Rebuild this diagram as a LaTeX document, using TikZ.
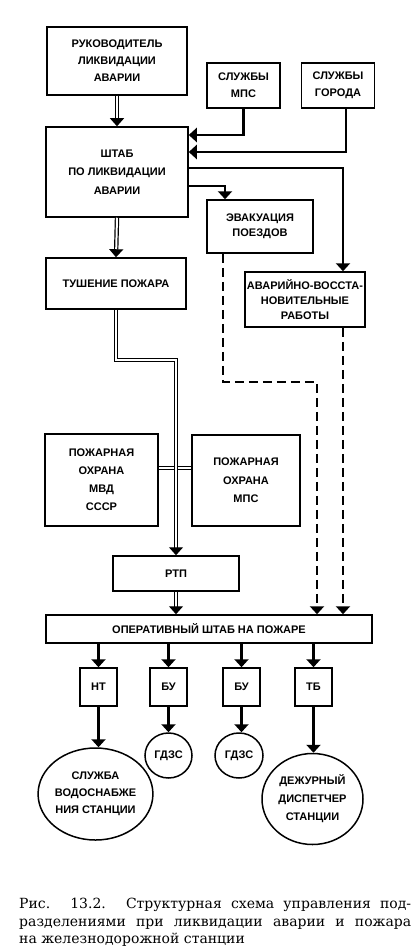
\documentclass[tikz,border=0pt]{standalone}
\usepackage{fontspec}
\setmainfont{DejaVu Serif}
\newfontfamily\boxfont{Liberation Sans}
\usetikzlibrary{arrows.meta,shapes.geometric,positioning}

\begin{document}
\begin{tikzpicture}[x=1pt,y=-1pt,
  every node/.style={font=\boxfont\bfseries\fontsize{11}{17}\selectfont},
  box/.style={draw,line width=1.5pt,align=center,inner sep=0pt},
  oval/.style={draw,ellipse,line width=1.5pt,align=center,inner sep=0pt},
  arrow/.style={-{Triangle[width=14pt,length=8pt]},line width=2.5pt},
  dblarrow/.style={-{Triangle[width=14pt,length=8pt]},double,double distance=2pt,line width=1.2pt},
  dblline/.style={double,double distance=2pt,line width=1.2pt},
  dasharrow/.style={arrow,dash pattern=on 9pt off 5pt}
]
  \useasboundingbox (0,0) rectangle (416,952);

  % top level
  \node[box,minimum width=140pt,minimum height=68pt] (ruk) at (117,61) {РУКОВОДИТЕЛЬ\\ЛИКВИДАЦИИ\\АВАРИИ};
  \node[box,minimum width=73pt,minimum height=45pt] (mps) at (243.5,85.5) {СЛУЖБЫ\\МПС};
  \node[box,minimum width=73pt,minimum height=45pt,right=20pt of mps] (gorod) {СЛУЖБЫ\\ГОРОДА};
  \node[box,minimum width=142pt,minimum height=90pt,font=\boxfont\bfseries\fontsize{11}{18.5}\selectfont] (shtab) at (117,172) {ШТАБ\\ПО ЛИКВИДАЦИИ\\АВАРИИ};
  \node[box,minimum width=106pt,minimum height=53pt,font=\boxfont\bfseries\fontsize{11}{15.5}\selectfont] (evak) at (260,226.5) {ЭВАКУАЦИЯ\\ПОЕЗДОВ};
  \node[box,minimum width=120pt,minimum height=55pt,font=\boxfont\bfseries\fontsize{11}{15}\selectfont] (avar) at (305,299.5) {АВАРИЙНО-ВОССТА-\\НОВИТЕЛЬНЫЕ\\РАБОТЫ};
  \node[box,minimum width=140pt,minimum height=51pt] (tush) at (116,283.5) {ТУШЕНИЕ ПОЖАРА};

  % fire forces
  \node[box,minimum width=113pt,minimum height=92pt,font=\boxfont\bfseries\fontsize{11}{18}\selectfont] (pomvd) at (101.5,480) {ПОЖАРНАЯ\\ОХРАНА\\МВД\\СССР};
  \node[box,minimum width=108pt,minimum height=91pt,font=\boxfont\bfseries\fontsize{11}{18.5}\selectfont] (pomps) at (246,480.5) {ПОЖАРНАЯ\\ОХРАНА\\МПС};
  \node[box,minimum width=126pt,minimum height=35pt] (rtp) at (176,573.5) {РТП};
  \node[box,minimum width=326pt,minimum height=28pt] (oper) at (209,629) {ОПЕРАТИВНЫЙ ШТАБ НА ПОЖАРЕ};

  % sections
  \node[box,minimum width=37pt,minimum height=38pt] (nt) at (98.5,687) {НТ};
  \node[box,minimum width=37pt,minimum height=38pt] (bua) at (168.5,687) {БУ};
  \node[box,minimum width=37pt,minimum height=38pt] (bub) at (241.5,687) {БУ};
  \node[box,minimum width=37pt,minimum height=38pt] (tb) at (313.5,687) {ТБ};
  \node[oval,minimum width=105pt,minimum height=92pt] (voda) at (95.5,794) {СЛУЖБА\\ВОДОСНАБЖЕ\\НИЯ СТАНЦИИ};
  \node[oval,minimum width=47pt,minimum height=45pt] (gdzsa) at (168.5,755.5) {ГДЗС};
  \node[oval,minimum width=48pt,minimum height=45pt] (gdzsb) at (239,755.5) {ГДЗС};
  \node[oval,minimum width=101pt,minimum height=91pt,font=\boxfont\bfseries\fontsize{11}{18}\selectfont] (disp) at (312.5,799) {ДЕЖУРНЫЙ\\ДИСПЕТЧЕР\\СТАНЦИИ};

  \coordinate (jn) at (176,360);
  \coordinate (bend) at (317,382);

  % connectors
  \draw[dblarrow] (ruk.south) -- (shtab.north);
  \draw[arrow] (mps.south) |- ([yshift=37pt]shtab.east);
  \draw[arrow] ([xshift=8pt]gorod.south) |- ([yshift=20pt]shtab.east);
  \draw[arrow] ([yshift=4pt]shtab.east) -| ([xshift=38pt]avar.north);
  \draw[arrow] ([yshift=-14pt]shtab.east) -| ([xshift=-35pt]evak.north);
  \draw[dblarrow] (shtab.south) -- (tush.north);
  \draw[dblline] ([yshift=12pt]pomvd.east) -- ([yshift=12pt]pomvd.east -| pomps.west);
  \draw[dblarrow] (tush.south) |- (jn) -- (rtp.north);
  \draw[dblarrow] (rtp.south) -- (oper.north -| rtp.south);
  \draw[dasharrow] ([xshift=-37pt]evak.south) |- (bend) -- (bend |- oper.north);
  \draw[dasharrow] ([xshift=38pt]avar.south) -- ([xshift=38pt]avar.south |- oper.north);
  \foreach \s in {nt,bua,bub,tb}
    \draw[arrow] (oper.south -| \s.north) -- (\s.north);
  \draw[arrow] (nt.south) -- (nt.south |- voda.north);
  \draw[arrow] (bua.south) -- (gdzsa.north);
  \draw[arrow] (bub.south) -- (bub.south |- gdzsb.north);
  \draw[arrow] (tb.south) -- (tb.south |- disp.north);

  % caption
  \node[anchor=north west,inner sep=0pt,text width=392pt,align=justify,font=\rmfamily\fontsize{14}{17.5}\selectfont] (cap) at (19,898) {Рис. 13.2. Структурная схема управления под-\linebreak разделениями при ликвидации аварии и пожара\linebreak на железнодорожной станции};
\end{tikzpicture}
\end{document}
